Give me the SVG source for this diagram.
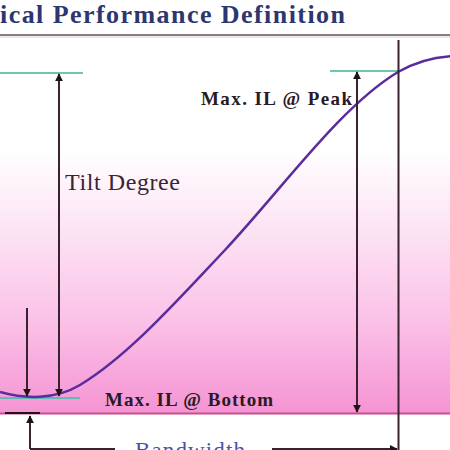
<svg xmlns="http://www.w3.org/2000/svg" width="450" height="450" viewBox="0 0 450 450">
  <defs>
    <linearGradient id="pinkGrad" x1="0" y1="36" x2="0" y2="413" gradientUnits="userSpaceOnUse">
      <stop offset="0" stop-color="#ffffff"/>
      <stop offset="0.3" stop-color="#ffffff"/>
      <stop offset="0.48" stop-color="#fde8f6"/>
      <stop offset="0.75" stop-color="#fbc2e8"/>
      <stop offset="1" stop-color="#f594d3"/>
    </linearGradient>
    <marker id="ah" viewBox="0 0 10 10" refX="9" refY="5" markerWidth="4" markerHeight="4" orient="auto-start-reverse" markerUnits="strokeWidth">
      <path d="M0,0 L10,5 L0,10 Z" fill="#1e1418"/>
    </marker>
  </defs>
  <style>
    .dim { stroke: #3a2230; stroke-width: 2; fill: none; }
    .lbl { font-family: "Liberation Serif", "Times New Roman", serif; }
    .bold { font-weight: bold; fill: #2a1a24; }
  </style>

  <rect x="0" y="0" width="450" height="450" fill="#ffffff"/>
  <rect x="0" y="36" width="450" height="377" fill="url(#pinkGrad)"/>
  <line x1="0" y1="413.5" x2="450" y2="413.5" stroke="#c84e8c" stroke-width="2"/>

  <g id="title">
    <text class="lbl" x="0" y="23" font-size="26" font-weight="bold" fill="#2c3670" textLength="345" lengthAdjust="spacing">ical Performance Definition</text>
    <line x1="0" y1="35" x2="450" y2="35" stroke="#8a7c7e" stroke-width="2"/>
    <line x1="0" y1="37" x2="450" y2="37" stroke="#d8d0d0" stroke-width="1"/>
  </g>

  <g id="reference-lines">
    <line x1="0" y1="73" x2="83" y2="73" stroke="#6cc8a8" stroke-width="2"/>
    <line x1="330" y1="71" x2="398" y2="71" stroke="#6cc8a8" stroke-width="2"/>
    <line x1="0" y1="398" x2="80" y2="398" stroke="#5cbcb8" stroke-width="2"/>
    <line x1="5" y1="413" x2="40" y2="413" stroke="#1e1418" stroke-width="2"/>
  </g>

  <g id="curve">
    <path d="M0,392 C25,399 55,400 80,385 C128,356 177,301 225,250 C283,188 340,107 398,72 C415,62 435,57 452,56" fill="none" stroke="#5a2c9c" stroke-width="2.5"/>
  </g>

  <g id="connectors">
    <line class="dim" x1="59" y1="74" x2="59" y2="396" marker-start="url(#ah)" marker-end="url(#ah)"/>
    <line class="dim" x1="27" y1="308" x2="27" y2="396" marker-end="url(#ah)"/>
    <line class="dim" x1="357" y1="72" x2="357" y2="412" marker-start="url(#ah)" marker-end="url(#ah)"/>
    <line class="dim" x1="398.5" y1="40" x2="398.5" y2="450"/>
    <line class="dim" x1="30" y1="416" x2="30" y2="449" marker-start="url(#ah)"/>
    <line class="dim" x1="30" y1="449" x2="115" y2="449" stroke="#555555"/>
    <line class="dim" x1="272" y1="449" x2="397" y2="449" stroke="#555555" marker-end="url(#ah)"/>
  </g>

  <g id="tilt-degree">
    <text class="lbl" x="65" y="190" font-size="24" fill="#3a2434" textLength="115" lengthAdjust="spacing">Tilt Degree</text>
  </g>
  <g id="max-il-peak">
    <text class="lbl bold" x="201" y="105" font-size="19" textLength="151" lengthAdjust="spacing">Max. IL @ Peak</text>
  </g>
  <g id="max-il-bottom">
    <text class="lbl bold" x="105" y="406" font-size="19" textLength="168" lengthAdjust="spacing">Max. IL @ Bottom</text>
  </g>
  <g id="bandwidth">
    <text class="lbl" x="135" y="458" font-size="23" fill="#4a52a6" textLength="110" lengthAdjust="spacing">Bandwidth</text>
  </g>
</svg>
